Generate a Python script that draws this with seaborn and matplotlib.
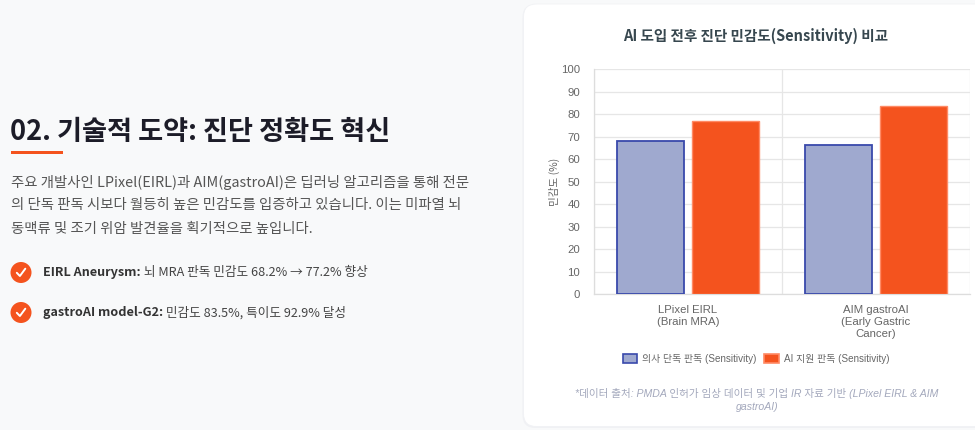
import matplotlib
matplotlib.use("Agg")
import matplotlib.pyplot as plt
from matplotlib.patches import FancyBboxPatch, Circle, Rectangle, Patch
import seaborn as sns
import pandas as pd

# ---------------- data ----------------
categories = ["LPixel EIRL\n(Brain MRA)", "AIM gastroAI\n(Early Gastric\nCancer)"]
series_names = ["의사 단독 판독 (Sensitivity)", "AI 지원 판독 (Sensitivity)"]
doctor_values = [68.2, 66.4]
ai_values = [77.2, 83.5]
y_ticks = [0, 10, 20, 30, 40, 50, 60, 70, 80, 90, 100]

chart_title = "AI 도입 전후 진단 민감도(Sensitivity) 비교"
y_label = "민감도 (%)"
footnote = "*데이터 출처: PMDA 인허가 임상 데이터 및 기업 IR 자료 기반 (LPixel EIRL & AIM\ngastroAI)"
page_title = "02. 기술적 도약: 진단 정확도 혁신"
paragraph_lines = [
    "주요 개발사인 LPixel(EIRL)과 AIM(gastroAI)은 딥러닝 알고리즘을 통해 전문",
    "의 단독 판독 시보다 월등히 높은 민감도를 입증하고 있습니다. 이는 미파열 뇌",
    "동맥류 및 조기 위암 발견율을 획기적으로 높입니다.",
]
bullet_bold = ["EIRL Aneurysm:", "gastroAI model-G2:"]
bullet_text = [" 뇌 MRA 판독 민감도 68.2% → 77.2% 향상", " 민감도 83.5%, 특이도 92.9% 달성"]

fill_colors = ["#9fa9cf", "#f4531e"]
edge_colors = ["#3949ab", "#ff8a65"]
ORANGE = "#f4531e"

df = pd.DataFrame({
    "category": categories * 2,
    "series": [series_names[0]] * 2 + [series_names[1]] * 2,
    "value": doctor_values + ai_values,
})

# ---------------- figure ----------------
sns.set_theme(style="white")
plt.rcParams["font.family"] = ["Liberation Sans", "Noto Sans CJK KR", "DejaVu Sans"]

W, H = 975, 430
fig = plt.figure(figsize=(W / 100, H / 100), dpi=100)
fig.patch.set_facecolor("#f8f9fa")

bg = fig.add_axes([0, 0, 1, 1], zorder=0)
bg.set_xlim(0, W)
bg.set_ylim(H, 0)
bg.axis("off")
bg.set_facecolor("none")

KR = ["Noto Sans CJK KR", "DejaVu Sans"]

# card
card_shadow = FancyBboxPatch((522.5, 4.5), 470, 423.5, boxstyle="round,pad=0,rounding_size=13",
                             fc="#f0f1f4", ec="none", zorder=0.5)
bg.add_patch(card_shadow)
card = FancyBboxPatch((523.5, 4), 470, 422.5, boxstyle="round,pad=0,rounding_size=13",
                      fc="white", ec="#f1f2f5", lw=0.6, zorder=1)
bg.add_patch(card)

# left content
bg.text(10, 132, page_title, family=KR, fontsize=19.6, fontweight="bold",
        color="#1c1c28", va="center", ha="left")
bg.add_patch(Rectangle((11, 150.5), 52, 3.2, fc=ORANGE, ec="none"))
for i, line in enumerate(paragraph_lines):
    bg.text(11, 182 + i * 23.3, line, family=KR, fontsize=10.35, color="#555555",
            va="center", ha="left")

fig.canvas.draw()
inv = bg.transData.inverted()
for i, (b, t) in enumerate(zip(bullet_bold, bullet_text)):
    yc = 272.5 + i * 40
    bg.add_patch(Circle((21, yc), 10.5, fc=ORANGE, ec="none"))
    bg.plot([16.8, 19.9, 25.3], [yc + 0.3, yc + 3.5, yc - 3.8], color="white", lw=1.4,
            solid_capstyle="round", solid_joinstyle="round")
    tb = bg.text(43, yc, b, family=KR, fontsize=9.1, fontweight="bold", color="#333333",
                 va="center", ha="left")
    fig.canvas.draw()
    bb = tb.get_window_extent()
    xd, _ = inv.transform((bb.x1, 0))
    bg.text(xd, yc, t, family=KR, fontsize=9.1, color="#444444", va="center", ha="left")

# chart title
bg.text(756, 36, chart_title, family=KR, fontsize=10.5, fontweight="bold",
        color="#37474f", va="center", ha="center", zorder=3)

# ---------------- chart ----------------
ax_l, ax_r, ax_t, ax_b = 594, 970, 69.3, 294.3
ax = fig.add_axes([ax_l / W, 1 - ax_b / H, (ax_r - ax_l) / W, (ax_b - ax_t) / H], zorder=2)
ax.set_facecolor("none")

sns.barplot(data=df, x="category", y="value", hue="series", hue_order=series_names,
            order=categories, palette=fill_colors, saturation=1, width=0.8, gap=0.1,
            ax=ax, legend=False, zorder=3)
for cont, ec, lw in zip(ax.containers, edge_colors, [1.3, 1.0]):
    for bar in cont:
        bar.set_edgecolor(ec)
        bar.set_linewidth(lw)

grid_c = "#e6e6e6"
ax.set_ylim(0, 100)
ax.set_xlim(-0.5, 1.5)
ax.set_yticks(y_ticks)
ax.set_yticklabels([str(v) for v in y_ticks])
ax.yaxis.grid(True, color=grid_c, lw=0.9)
ax.set_xticks([-0.5, 0.5, 1.5], minor=True)
ax.xaxis.grid(True, which="minor", color=grid_c, lw=0.9)
ax.xaxis.grid(False, which="major")
ax.set_axisbelow(True)
ax.tick_params(axis="y", length=6, color=grid_c, width=0.9, pad=4, labelsize=8.2, labelcolor="#666666")
ax.tick_params(axis="x", which="major", length=0, pad=8, labelsize=8.2, labelcolor="#666666")
ax.tick_params(axis="x", which="minor", length=8, color=grid_c, width=0.9)
for lab in ax.get_xticklabels():
    lab.set_linespacing(1.25)
for s in ["top", "right"]:
    ax.spines[s].set_visible(False)
for s in ["left", "bottom"]:
    ax.spines[s].set_color("#dddddd")
    ax.spines[s].set_linewidth(0.9)
ax.set_xlabel("")
ax.set_ylabel(y_label, family=KR, fontsize=7.6, color="#666666", labelpad=1)

handles = [Patch(fc=fc, ec=ec, lw=1.2) for fc, ec in zip(fill_colors, edge_colors)]
fig.legend(handles, series_names, loc="center", bbox_to_anchor=(756 / W, 1 - 358.5 / H),
           ncol=2, frameon=False, prop={"family": ["Liberation Sans", "Noto Sans CJK KR"], "size": 7.1},
           labelcolor="#666666", handlelength=1.45, handleheight=1.05, handletextpad=0.5,
           columnspacing=0.8)

bg.text(757, 400, footnote, family=["Liberation Sans", "Noto Sans CJK KR"], fontsize=7.6,
        style="italic", color="#a3a8bc", va="center", ha="center", linespacing=1.45, zorder=3)

fig.savefig("out.png", dpi=100, facecolor=fig.get_facecolor())
